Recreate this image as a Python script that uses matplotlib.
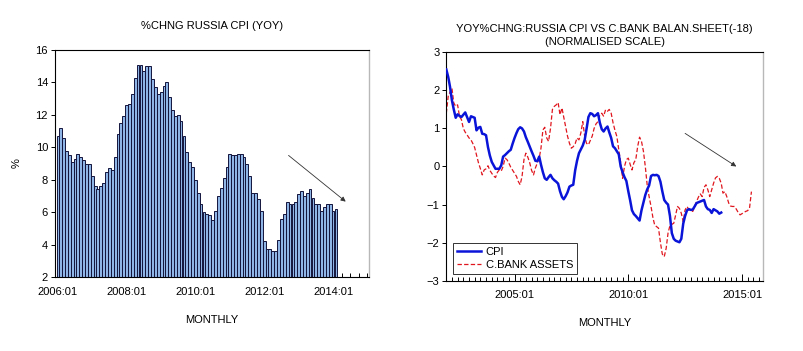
import numpy as np
import pandas as pd
import matplotlib
matplotlib.use('Agg')
import matplotlib.pyplot as plt
import matplotlib.dates as mdates

plt.rcParams['font.family'] = ['Liberation Sans', 'DejaVu Sans']

# left panel: Russia CPI yoy %, monthly from 2006:01
cpi_start = '2006-01-01'
cpi_yoy = [
    10.7, 11.2, 10.6, 9.8, 9.5, 9.1, 9.3, 9.6, 9.4, 9.2, 9.0, 9.0,      # 2006
    8.2, 7.6, 7.4, 7.6, 7.8, 8.5, 8.7, 8.6, 9.4, 10.8, 11.5, 11.9,      # 2007
    12.6, 12.7, 13.3, 14.3, 15.1, 15.1, 14.7, 15.0, 15.0, 14.2, 13.7, 13.3,  # 2008
    13.4, 13.8, 14.0, 13.1, 12.3, 11.9, 12.0, 11.6, 10.7, 9.7, 9.1, 8.8,     # 2009
    8.0, 7.2, 6.5, 6.0, 5.9, 5.8, 5.5, 6.1, 7.0, 7.5, 8.1, 8.8,        # 2010
    9.6, 9.5, 9.5, 9.6, 9.6, 9.4, 9.0, 8.2, 7.2, 7.2, 6.8, 6.1,        # 2011
    4.2, 3.7, 3.7, 3.6, 3.6, 4.3, 5.6, 5.9, 6.6, 6.5, 6.5, 6.6,        # 2012
    7.1, 7.3, 7.0, 7.2, 7.4, 6.9, 6.5, 6.5, 6.1, 6.3, 6.5, 6.5,        # 2013
    6.1, 6.2,                                                          # 2014
]

# right panel: normalised series, monthly from 2002:01
norm_start = '2002-01-01'
cpi_norm = [
    2.55, 2.35, 2.10, 1.74, 1.50, 1.28, 1.37, 1.33, 1.30, 1.36, 1.42, 1.30,
    1.17, 1.32, 1.30, 1.28, 0.95, 1.02, 1.04, 0.86, 0.85, 0.82, 0.51, 0.29,
    0.12, 0.03, -0.06, -0.06, -0.06, 0.03, 0.26, 0.30, 0.35, 0.40, 0.44, 0.60,
    0.75, 0.88, 0.98, 1.03, 1.00, 0.92, 0.77, 0.65, 0.52, 0.40, 0.28, 0.15,
    0.14, 0.26, 0.05, -0.15, -0.31, -0.35, -0.28, -0.22, -0.31, -0.36, -0.40, -0.45,
    -0.65, -0.80, -0.86, -0.78, -0.68, -0.53, -0.50, -0.48, -0.10, 0.15, 0.35, 0.45,
    0.55, 0.70, 0.98, 1.30, 1.40, 1.38, 1.32, 1.35, 1.40, 1.15, 0.98, 0.92,
    1.00, 1.05, 0.90, 0.75, 0.53, 0.48, 0.40, 0.32, 0.00, -0.15, -0.28, -0.38,
    -0.65, -0.90, -1.15, -1.25, -1.30, -1.36, -1.42, -1.15, -0.95, -0.75, -0.60, -0.50,
    -0.25, -0.22, -0.23, -0.22, -0.25, -0.40, -0.65, -0.88, -0.95, -1.00, -1.30, -1.75,
    -1.90, -1.95, -1.97, -1.99, -1.90, -1.50, -1.30, -1.15, -1.12, -1.14, -1.13, -1.05,
    -0.96, -0.94, -0.92, -0.90, -0.88, -1.05, -1.12, -1.14, -1.22, -1.12, -1.15, -1.18,
    -1.24, -1.21,
]
cb_norm = [
    1.40, 1.85, 1.95, 2.06, 1.67, 1.58, 1.62, 1.32, 1.23, 1.00, 0.90, 0.83,
    0.75, 0.70, 0.61, 0.50, 0.30, 0.10, -0.05, -0.22, -0.09, -0.06, 0.02, -0.10,
    -0.18, -0.25, -0.29, -0.15, -0.09, -0.12, 0.00, 0.22, 0.18, 0.09, -0.02, -0.10,
    -0.18, -0.26, -0.39, -0.48, -0.26, 0.18, 0.35, 0.25, 0.10, -0.10, -0.22, -0.04,
    0.09, 0.22, 0.48, 0.96, 1.03, 0.75, 0.66, 1.00, 1.50, 1.58, 1.62, 1.68,
    1.36, 1.54, 1.30, 1.05, 0.80, 0.61, 0.48, 0.52, 0.60, 0.75, 0.70, 0.88,
    1.18, 0.79, 0.61, 0.57, 0.68, 0.80, 1.00, 1.12, 1.18, 1.35, 1.40, 1.32,
    1.49, 1.45, 1.50, 1.40, 1.15, 0.95, 0.79, 0.44, 0.10, -0.31, 0.00, 0.18,
    0.22, 0.05, -0.09, 0.10, 0.18, 0.53, 0.77, 0.66, 0.40, 0.00, -0.50, -0.79,
    -1.05, -1.35, -1.54, -1.58, -1.62, -2.00, -2.30, -2.37, -2.15, -1.75, -1.55, -1.52,
    -1.49, -1.27, -1.05, -1.10, -1.23, -1.45, -1.14, -1.05, -1.14, -1.16, -1.18, -1.05,
    -0.92, -0.80, -0.72, -0.79, -0.55, -0.48, -0.61, -0.79, -0.61, -0.44, -0.30, -0.26,
    -0.31, -0.44, -0.70, -0.66, -0.79, -0.96, -1.04, -1.05, -1.05, -1.12, -1.21, -1.27,
    -1.24, -1.21, -1.18, -1.16, -1.10, -0.66,
]

bar_face = '#8fb4e6'
bar_edge = '#14143c'
fs = 8

fig = plt.figure(figsize=(8.04, 3.51), dpi=100)
ax1 = fig.add_axes([0.0684, 0.2108, 0.3905, 0.6467])
ax2 = fig.add_axes([0.5551, 0.2003, 0.3940, 0.6507])


def style_axes(ax):
    for s in ('left', 'bottom', 'top'):
        ax.spines[s].set_color('black')
        ax.spines[s].set_linewidth(0.8)
    ax.spines['right'].set_color('#b8b8b8')
    ax.spines['right'].set_linewidth(1.0)
    ax.tick_params(axis='y', which='both', direction='out', length=3, width=0.7,
                   labelsize=fs, pad=2)
    ax.tick_params(axis='x', which='major', direction='in', length=5, width=0.7,
                   labelsize=fs, pad=7)
    ax.tick_params(axis='x', which='minor', direction='in', length=3, width=0.7)
    ax.tick_params(right=False, top=False)


# ---- left: bars
dates1 = pd.date_range(cpi_start, periods=len(cpi_yoy), freq='MS')
ax1.bar(dates1, cpi_yoy, width=30, bottom=0, color=bar_face, edgecolor=bar_edge,
        linewidth=0.7, align='center', zorder=2)
ax1.set_ylim(2, 16)
ax1.set_yticks(np.arange(2, 17, 2))
ax1.set_xlim(pd.Timestamp('2005-12-01'), pd.Timestamp('2015-01-17'))
ax1.xaxis.set_major_locator(mdates.YearLocator(2, month=1, day=1))
ax1.xaxis.set_major_formatter(mdates.DateFormatter('%Y:%m'))
ax1.xaxis.set_minor_locator(mdates.MonthLocator(bymonth=[1, 4, 7, 10]))
style_axes(ax1)
ax1.set_title('%CHNG RUSSIA CPI (YOY)', fontsize=fs, pad=15)
ax1.set_ylabel('%', fontsize=fs, labelpad=10)
ax1.set_xlabel('MONTHLY', fontsize=fs, labelpad=13)
ax1.annotate('', xy=(pd.Timestamp('2014-05-15'), 6.65),
             xytext=(pd.Timestamp('2012-09-15'), 9.5),
             arrowprops=dict(arrowstyle='-|>', color='#333333', lw=0.6,
                             mutation_scale=7, shrinkA=0, shrinkB=0))

# ---- right: lines
dates_cpi = pd.date_range(norm_start, periods=len(cpi_norm), freq='MS')
dates_cb = pd.date_range(norm_start, periods=len(cb_norm), freq='MS')
ax2.plot(dates_cpi, cpi_norm, color='#0a14d8', lw=1.8, label='CPI', zorder=3)
ax2.plot(dates_cb, cb_norm, color='#e0161e', lw=0.9, ls=(0, (3.5, 1.8)),
         label='C.BANK ASSETS', zorder=2)
ax2.set_ylim(-3, 3)
ax2.set_yticks(np.arange(-3, 4, 1))
ax2.set_xlim(pd.Timestamp('2002-01-01'), pd.Timestamp('2015-12-05'))
ax2.xaxis.set_major_locator(mdates.YearLocator(5, month=1, day=1))
ax2.xaxis.set_major_formatter(mdates.DateFormatter('%Y:%m'))
ax2.xaxis.set_minor_locator(mdates.MonthLocator(bymonth=[1, 4, 7, 10]))
style_axes(ax2)
ax2.set_title('YOY%CHNG:RUSSIA CPI VS C.BANK BALAN.SHEET(-18)\n(NORMALISED SCALE)',
              fontsize=fs, pad=5, linespacing=1.45)
ax2.set_xlabel('MONTHLY', fontsize=fs, labelpad=13)
leg = ax2.legend(loc='lower left', bbox_to_anchor=(0.021, 0.029), borderaxespad=0,
                 fontsize=fs, frameon=True, fancybox=False, handlelength=2.2,
                 handletextpad=0.4, borderpad=0.35, labelspacing=0.3)
leg.get_frame().set_edgecolor('black')
leg.get_frame().set_linewidth(0.7)
ax2.annotate('', xy=(pd.Timestamp('2014-10-01'), 0.0),
             xytext=(pd.Timestamp('2012-07-01'), 0.87),
             arrowprops=dict(arrowstyle='-|>', color='#333333', lw=0.6,
                             mutation_scale=7, shrinkA=0, shrinkB=0))

fig.savefig('out.png', dpi=100)
